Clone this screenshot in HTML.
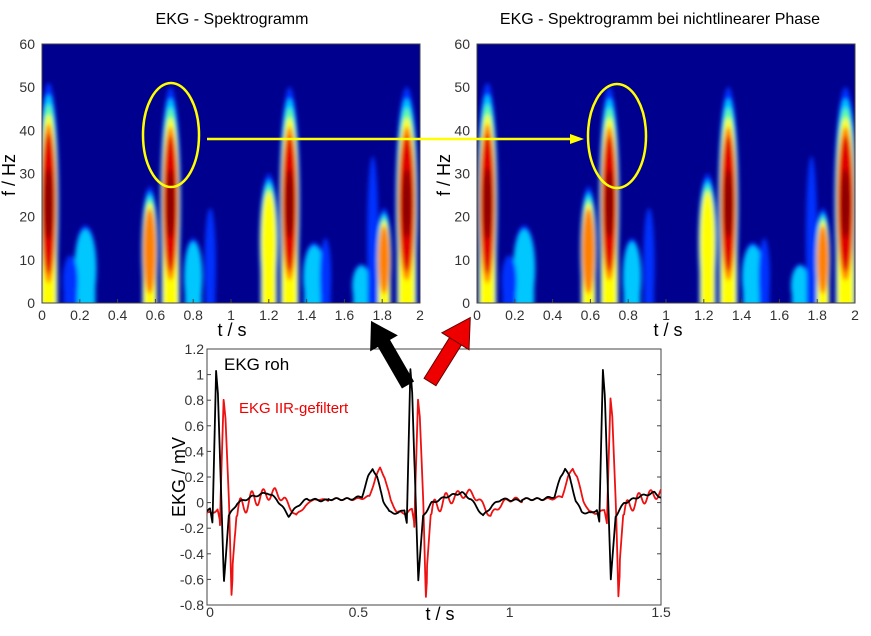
<!DOCTYPE html>
<html><head><meta charset="utf-8"><style>
body{margin:0;background:#fff;width:871px;height:631px;overflow:hidden;font-family:"Liberation Sans",sans-serif}
svg text{font-family:"Liberation Sans",sans-serif;fill:#333}
</style></head><body>
<svg id="s" width="871" height="631" viewBox="0 0 871 631" xmlns="http://www.w3.org/2000/svg">
<defs>
<filter id="bl" x="-50%" y="-50%" width="200%" height="200%"><feGaussianBlur stdDeviation="2.2"/></filter>
<clipPath id="c1"><rect x="42" y="44" width="378" height="259"/></clipPath>
<clipPath id="c2"><rect x="477" y="44" width="378" height="259"/></clipPath>
<clipPath id="c3"><rect x="207" y="349" width="454" height="256"/></clipPath>
</defs>
<text x="232" y="24" font-size="16" text-anchor="middle" style="fill:#000">EKG - Spektrogramm</text>
<text x="660" y="24" font-size="16" text-anchor="middle" style="fill:#000">EKG - Spektrogramm  bei nichtlinearer Phase</text>
<rect x="42" y="44" width="378" height="259" fill="#00008f"/>
<rect x="477" y="44" width="378" height="259" fill="#00008f"/>
<g id="sp1" clip-path="url(#c1)"><g id="sp1i" filter="url(#bl)"></g></g>
<g id="sp2" clip-path="url(#c2)"><g id="sp2i" filter="url(#bl)"></g></g>
<g id="ax" font-size="14"></g>
<rect x="207" y="349" width="454" height="256" fill="#fff" stroke="#444" stroke-width="1"/>
<g id="ekg" clip-path="url(#c3)"></g>
<g id="ax2" font-size="14"></g>
<text x="224" y="370" font-size="17" style="fill:#000">EKG roh</text>
<text x="239" y="413" font-size="15" style="fill:#e00">EKG IIR-gefiltert</text>
<text transform="translate(185,477) rotate(-90)" font-size="18" text-anchor="middle" style="fill:#000">EKG / mV</text>
<text x="440" y="620" font-size="18" text-anchor="middle" style="fill:#000">t / s</text>
<text x="232" y="336" font-size="18" text-anchor="middle" style="fill:#000">t / s</text>
<text x="668" y="336" font-size="18" text-anchor="middle" style="fill:#000">t / s</text>
<text transform="translate(15,175) rotate(-90)" font-size="18" text-anchor="middle" style="fill:#000">f / Hz</text>
<text transform="translate(450,175) rotate(-90)" font-size="18" text-anchor="middle" style="fill:#000">f / Hz</text>
<ellipse cx="171" cy="135" rx="28" ry="52" fill="none" stroke="#ffff00" stroke-width="2.5"/>
<ellipse cx="617" cy="136" rx="29" ry="52" fill="none" stroke="#ffff00" stroke-width="2.5"/>
<line x1="207" y1="139" x2="572" y2="139" stroke="#ffff00" stroke-width="2.5"/>
<polygon points="584,139 570,134 570,144" fill="#ffff00"/>
<g transform="translate(408,385) rotate(-120)">
<rect x="0" y="-7" width="50" height="14" fill="#000"/>
<polygon points="48,-16 74,0 48,16" fill="#000"/>
</g>
<g transform="translate(430,382) rotate(-58)">
<rect x="0" y="-7" width="50" height="14" fill="#e00" stroke="#600"/>
<polygon points="48,-16 76,0 48,16" fill="#e00" stroke="#600"/>
</g>
</svg>
<script>
const NS="http://www.w3.org/2000/svg";
function el(p,t,a){const e=document.createElementNS(NS,t);for(const k in a)e.setAttribute(k,a[k]);p.appendChild(e);return e;}
function txt(p,x,y,s,anc){const e=el(p,"text",{x:x,y:y,"text-anchor":anc});e.textContent=s;}
const cols=["#0030ff","#00c8ff","#60ffa0","#ffff00","#ff8000","#e00000","#8a0000"];
const rxf=[1,0.93,0.86,0.8,0.74,0.66,0.4];
const ryf=[1,0.9,0.82,0.74,0.66,0.58,0.3];
const blobs=[
[0.035,23,28,0.055,7],[0.23,8,10,0.06,2],[0.15,5,6,0.04,1],[0.57,12,15,0.045,5],[0.68,23,27,0.055,7],
[0.80,6,9,0.05,2],[0.89,9,13,0.03,1],[1.2,14,16,0.05,4],[1.31,23,27,0.055,7],[1.44,6,8,0.06,2],[1.50,6,9,0.03,1],
[1.69,4,5,0.05,2],[1.75,15,19,0.03,1],[1.81,10,12,0.04,5],[1.93,23,27,0.06,7]];
function spec(g,x0,sh){
 for(const b of blobs){
  const cx=x0+(b[0]+sh)*189, cy=303-b[1]*4.317;
  for(let i=0;i<b[4];i++){
   const rx=b[3]*189*rxf[i];
   el(g,"ellipse",{cx:cx,cy:cy,rx:rx,ry:b[2]*4.317*ryf[i],fill:cols[i]});
   if(i<4) el(g,"rect",{x:cx-rx*0.9,y:cy,width:rx*1.8,height:310-cy,fill:cols[i]});
  }
 }
}
spec(document.getElementById("sp1i"),42,0);
spec(document.getElementById("sp2i"),477,0.02);
const ax=document.getElementById("ax");
for(const x0 of [42,477]){
 el(ax,"rect",{x:x0,y:44,width:378,height:259,fill:"none",stroke:"#444"});
 for(let i=0;i<=10;i++){const x=x0+i*37.8;txt(ax,x,320,String(+(i*0.2).toFixed(1)),"middle");
  el(ax,"line",{x1:x,y1:303,x2:x,y2:299,stroke:"#444"});}
 for(let i=0;i<=6;i++){const y=303-i*43.17;txt(ax,x0-7,y+5,String(i*10),"end");}
}
const ax2=document.getElementById("ax2");
for(let i=0;i<=10;i++){const v=1.2-i*0.2;const y=349+i*25.6;
 txt(ax2,204,y+5,(Math.abs(v)<1e-9?"0":String(+v.toFixed(1))),"end");
 el(ax2,"line",{x1:207,y1:y,x2:211,y2:y,stroke:"#444"});el(ax2,"line",{x1:661,y1:y,x2:657,y2:y,stroke:"#444"});}
[[0,"0"],[0.5,"0.5"],[1,"1"],[1.5,"1.5"]].forEach(a=>{const x=207+a[0]*302.7;txt(ax2,x+(a[0]==0?3:0),617,a[1],"middle");});
const K=[[-0.32,0.03],[-0.2,0.03],[-0.16,0.05],[-0.14,0.2],[-0.125,0.27],[-0.11,0.2],[-0.09,0.02],[-0.07,-0.07],[-0.04,-0.08],[-0.02,-0.05],[-0.012,-0.15],[0,1.03],[0.006,0.85],[0.026,-0.6],[0.042,-0.1],[0.07,0],[0.12,0.05],[0.17,0.08],[0.2,0.03],[0.24,-0.1],[0.27,-0.02],[0.3,0.03],[0.35,0.02]];
function interp(d){if(d<=K[0][0])return 0.03;for(let i=1;i<K.length;i++){if(d<=K[i][0]){const a=K[i-1],b=K[i];return a[1]+(b[1]-a[1])*(d-a[0])/(b[0]-a[0]);}}return 0.02;}
const R=[0.03,0.672,1.308];
function sig(t,red){let best=R[0];for(const r of R){if(Math.abs(t-r-0.05)<Math.abs(t-best-0.05))best=r;}
 let d=t-best;if(red)d-=0.025;let v=interp(d);
 if(red){if(d>-0.012&&d<0.03)v*= (v>0?0.78:1.2);
  if(d>0.045)v+=0.09*Math.sin(2*Math.PI*26*(d-0.045))*Math.exp(-(d-0.045)/0.12);}
 v+=0.008*Math.sin(t*180);return v;}
const g=document.getElementById("ekg");
for(const red of [true,false]){let p="";for(let t=0;t<=1.5;t+=0.001){p+=(207+t*302.7).toFixed(1)+","+(503-sig(t,red)*129).toFixed(1)+" ";}
 el(g,"polyline",{points:p,fill:"none",stroke:red?"#ee1111":"#000","stroke-width":"1.8","stroke-linejoin":"round"});}
</script>
</body></html>
